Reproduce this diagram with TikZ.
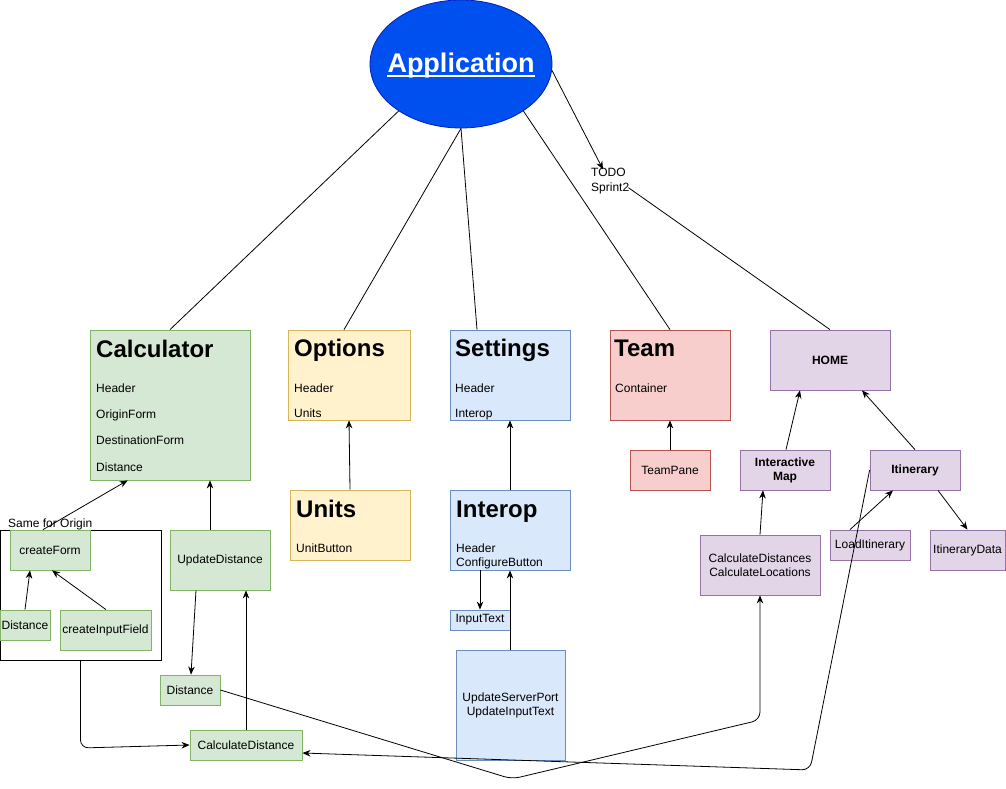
\documentclass[tikz,border=0pt]{standalone}
\usepackage{fontspec}
\setmainfont{Liberation Sans}
\usetikzlibrary{arrows.meta,calc,shapes.geometric}
\definecolor{gfill}{HTML}{D5E8D4}\definecolor{gline}{HTML}{82B366}
\definecolor{yfill}{HTML}{FFF2CC}\definecolor{yline}{HTML}{D6B656}
\definecolor{bfill}{HTML}{DAE8FC}\definecolor{bline}{HTML}{6C8EBF}
\definecolor{rfill}{HTML}{F8CECC}\definecolor{rline}{HTML}{B85450}
\definecolor{pfill}{HTML}{E1D5E7}\definecolor{pline}{HTML}{9673A6}
\definecolor{afill}{HTML}{0050EF}\definecolor{aline}{HTML}{001DBC}
\begin{document}
\begin{tikzpicture}[x=1pt,y=-1pt,
  box/.style={rectangle, draw, line width=0.8pt, inner sep=0pt, align=center, font=\fontsize{12}{14}\selectfont},
  gbox/.style={box, fill=gfill, draw=gline},
  ybox/.style={box, fill=yfill, draw=yline},
  bbox/.style={box, fill=bfill, draw=bline},
  rbox/.style={box, fill=rfill, draw=rline},
  pbox/.style={box, fill=pfill, draw=pline},
  boldtext/.style={font=\fontsize{12}{14}\selectfont\bfseries},
  item/.style={inner sep=0pt, anchor=base west, font=\fontsize{12}{14}\selectfont},
  heading/.style={inner sep=0pt, anchor=base west, font=\fontsize{24}{28}\selectfont\bfseries},
  conn/.style={line width=0.8pt},
  arr/.style={conn, -{Stealth[length=8pt,width=6.5pt,inset=2.5pt]}}
]
\path[fill=white,use as bounding box] (0,0) rectangle (1006,789);

% Application
\node[ellipse, fill=afill, draw=aline, line width=0.8pt, minimum width=182pt, minimum height=128pt, inner sep=0pt] (app) at (461,64) {};
\node[inner sep=0pt, anchor=base, text=white, font=\fontsize{27}{30}\selectfont\bfseries] (apptext) at (461,73) {Application};
\draw[white, line width=1.4pt] ($(apptext.base west)+(0,3)$) -- ($(apptext.base east)+(0,3)$);

% Top level boxes
\node[gbox, minimum width=160pt, minimum height=150pt] (calc) at (170,405) {};
\node[heading] (calcT) at (96,357) {Calculator};
\node[item] (calc1) at (96,392) {Header};
\node[item] (calc2) at (96,418) {OriginForm};
\node[item] (calc3) at (96,444) {DestinationForm};
\node[item] (calc4) at (96,471) {Distance};

\node[ybox, minimum width=122pt, minimum height=90pt] (opts) at (349,375) {};
\node[heading] (optsT) at (294,356) {Options};
\node[item] (opts1) at (294,392) {Header};
\node[item] (opts2) at (294,417) {Units};

\node[bbox, minimum width=120pt, minimum height=90pt] (sett) at (510,375) {};
\node[heading] (settT) at (455,356) {Settings};
\node[item] (sett1) at (455,392) {Header};
\node[item] (sett2) at (455,417) {Interop};

\node[rbox, minimum width=120pt, minimum height=90pt] (team) at (670,375) {};
\node[heading] (teamT) at (614,356) {Team};
\node[item] (team1) at (615,392) {Container};

\node[pbox, boldtext, minimum width=120pt, minimum height=60pt] (home) at (830,360) {HOME};

% Second level
\node[ybox, minimum width=120pt, minimum height=70pt] (units) at (350,525) {};
\node[heading] (unitsT) at (296,517) {Units};
\node[item] (units1) at (296,552) {UnitButton};

\node[bbox, minimum width=120pt, minimum height=80pt] (interop) at (510,530) {};
\node[heading] (interopT) at (456,517) {Interop};
\node[item] (interop1) at (456,552) {Header};
\node[item] (interop2) at (456,566) {ConfigureButton};

\node[bbox, minimum width=60pt, minimum height=20pt] (itext) at (480,620) {InputText};
\node[bbox, minimum width=109pt, minimum height=110pt] (usp) at (510.5,705) {UpdateServerPort\\UpdateInputText};

\node[rbox, minimum width=80pt, minimum height=40pt] (tpane) at (670,470) {TeamPane};

\node[pbox, boldtext, minimum width=90pt, minimum height=40pt] (imap) at (785,470) {Interactive\\Map};
\node[pbox, boldtext, minimum width=90pt, minimum height=40pt] (itin) at (915,470) {Itinerary};
\node[pbox, minimum width=80pt, minimum height=30pt] (loadit) at (870,545) {LoadItinerary};
\node[pbox, minimum width=75pt, minimum height=40pt] (itdata) at (967.5,550) {ItineraryData};
\node[pbox, minimum width=120pt, minimum height=60pt] (calcs) at (760,565) {CalculateDistances\\CalculateLocations};

% Calculator subtree
\node[rectangle, draw=black, fill=white, line width=0.8pt, inner sep=0pt, minimum width=161pt, minimum height=130pt] (origin) at (80.5,595) {};
\node[item] (originlabel) at (8,527) {Same for Origin};
\node[gbox, minimum width=80pt, minimum height=40pt] (cform) at (50,550) {createForm};
\node[gbox, minimum width=50pt, minimum height=30pt] (dsmall) at (25,625) {Distance};
\node[gbox, minimum width=91pt, minimum height=40pt] (cif) at (105.5,630) {createInputField};
\node[gbox, minimum width=100pt, minimum height=60pt] (updist) at (220,560) {UpdateDistance};
\node[gbox, minimum width=60pt, minimum height=30pt] (dist2) at (190,690) {Distance};
\node[gbox, minimum width=112pt, minimum height=30pt] (calcdist) at (246,745) {CalculateDistance};

% TODO label
\node[inner sep=0pt, anchor=north west, align=left, font=\fontsize{12}{15}\selectfont] (todo) at (591,168.4) {TODO\\Sprint2};

% Connectors from Application
\draw[conn] (app.217) -- (calc.north);
\draw[conn] (app.south) -- ($(opts.north)+(-5,0)$);
\draw[conn] (app.south) -- ($(sett.north)+(-33,0)$);
\draw[conn] (app.323) -- (team.north);
\draw[arr] (app.356) -- ($(todo.north west)+(12,1)$);
\draw[conn] ($(todo.south east)+(-1,-7)$) -- (home.north);

% Calculator subtree arrows
\draw[arr] ($(cform.north)+(-7,0)$) -- ($(calc.south west)+(38,0)$);
\draw[arr] ($(updist.north)+(-10,0)$) -- ($(calc.south)+(40,0)$);
\draw[arr] (dsmall.north) -- ($(cform.south)+(-20,0)$);
\draw[arr] ($(cif.north)+(0.5,0)$) -- ($(cform.south)+(2,0)$);
\draw[arr] ($(updist.south)+(-24,0)$) -- ($(dist2.north)+(1,0)$);
\draw[arr] (calcdist.north) -- ($(updist.south)+(26,0)$);
\coordinate (ob) at (80.5,748);
\draw[arr, rounded corners=8pt] (origin.south) -- (ob) -- (calcdist.west);

% Options / Settings
\draw[arr] (units.north) -- (opts.south);
\draw[arr] (interop.north) -- (sett.south);
\draw[arr] ($(interop.south)+(-30,0)$) -- (itext.north);
\draw[arr] ($(usp.north)+(-0.5,0)$) -- (interop.south);

% Team
\draw[arr] (tpane.north) -- (team.south);

% HOME subtree
\draw[arr] ($(imap.north)+(1,0)$) -- ($(home.south)+(-30,0)$);
\draw[arr] (itin.north) -- ($(home.south)+(32,0)$);
\draw[arr] (calcs.north) -- ($(imap.south)+(-22,0)$);
\draw[arr] ($(loadit.north)+(-20,0)$) -- ($(itin.south)+(-22,0)$);
\draw[arr] ($(itin.south)+(23,0)$) -- (itdata.north);

% Long bottom connectors
\coordinate (b1) at (512,779);
\coordinate (b2) at (760,720);
\draw[arr, rounded corners=8pt] (dist2.east) -- (b1) -- (b2) -- (calcs.south);
\coordinate (b3) at (810,770);
\draw[arr, rounded corners=8pt] (itin.west) -- (b3) -- ($(calcdist.east)+(0,8)$);
\end{tikzpicture}
\end{document}
